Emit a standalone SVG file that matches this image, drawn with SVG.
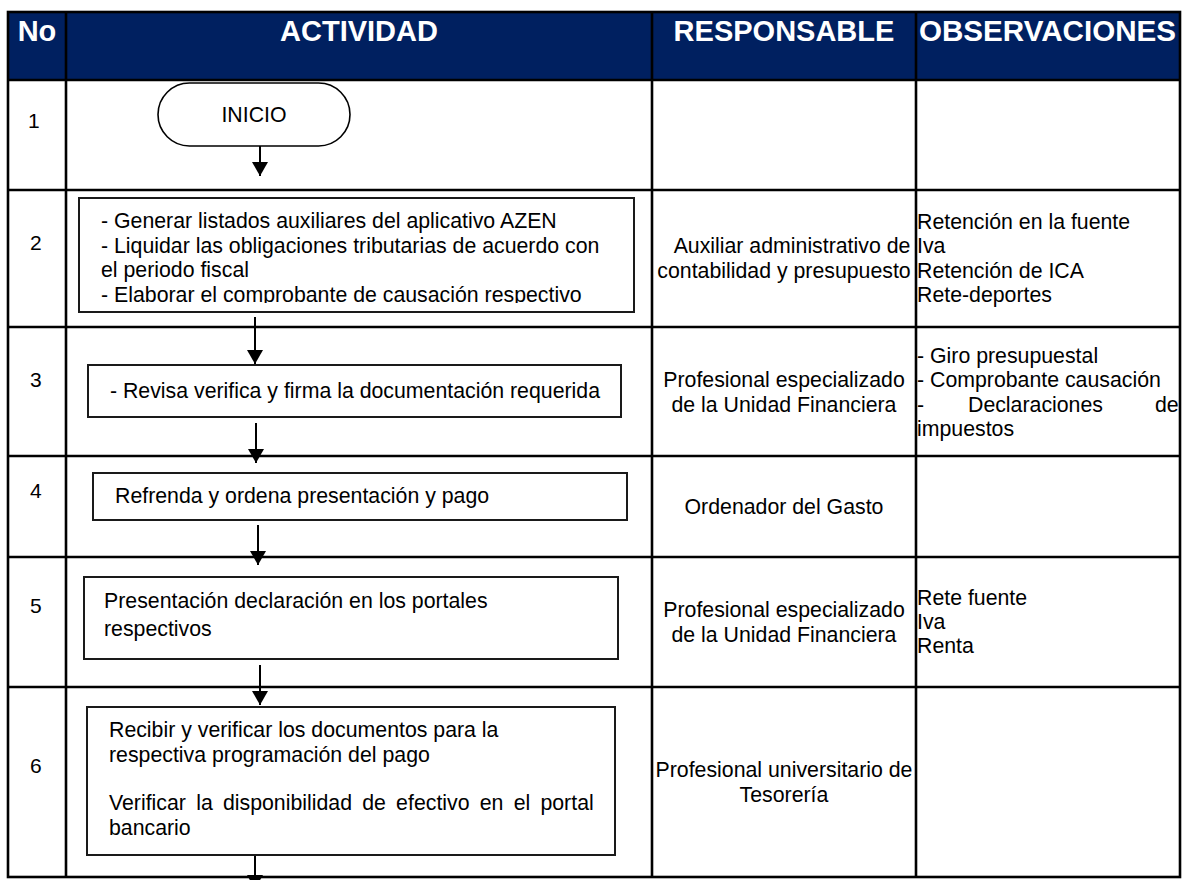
<svg xmlns="http://www.w3.org/2000/svg" width="1182" height="880" viewBox="0 0 1182 880">
<style>
.hdr{font-family:"Liberation Sans",Arial,sans-serif;font-weight:bold;font-size:29px;fill:#fff}
.t{font-family:"Liberation Sans",Arial,sans-serif;font-size:21.3px;fill:#000}
.num{font-family:"Liberation Sans",Arial,sans-serif;font-size:21px;fill:#000}
.c{text-anchor:middle}
.grid{stroke:#000;stroke-width:2.6;fill:none}
.box{fill:#fff;stroke:#1a1a1a;stroke-width:2}
.conn{stroke:#000;stroke-width:2;fill:none;marker-end:url(#ah)}
</style>
<defs>
<marker id="ah" viewBox="0 0 14 16" refX="14" refY="8" markerWidth="14" markerHeight="16" markerUnits="userSpaceOnUse" orient="auto">
<path d="M0,0 L14,8 L0,16 Z" fill="#000"/>
</marker>
<clipPath id="clip2"><rect x="80" y="198" width="554" height="105"/></clipPath>
</defs>
<rect width="1182" height="880" fill="#fff"/>
<g id="table">
<rect x="8" y="12" width="1172" height="68" fill="#002060"/>
<rect class="grid" x="8" y="12" width="1172" height="865"/>
<path class="grid" d="M66,12V877 M652,12V877 M916,12V877 M8,80H1180 M8,190H1180 M8,327H1180 M8,456H1180 M8,557H1180 M8,687H1180"/>
<text class="hdr c" x="37" y="41">No</text>
<text class="hdr c" x="359" y="41">ACTIVIDAD</text>
<text class="hdr c" x="784" y="41">RESPONSABLE</text>
<text class="hdr" x="919" y="41" textLength="257" lengthAdjust="spacingAndGlyphs">OBSERVACIONES</text>
<text class="num" x="28" y="128">1</text>
<text class="num" x="30" y="250">2</text>
<text class="num" x="30" y="387">3</text>
<text class="num" x="30" y="498">4</text>
<text class="num" x="30" y="613">5</text>
<text class="num" x="30" y="773">6</text>
</g>
<g id="n1">
<rect x="158" y="83" width="192" height="63" rx="31.5" ry="31.5" fill="#fff" stroke="#000" stroke-width="1.6"/>
<text class="t c" x="254" y="122">INICIO</text>
</g>
<g id="n2">
<rect class="box" x="79" y="198" width="555" height="114"/>
<g clip-path="url(#clip2)">
<text class="t" x="101" y="228">- Generar listados auxiliares del aplicativo AZEN</text>
<text class="t" x="101" y="252.5">- Liquidar las obligaciones tributarias de acuerdo con</text>
<text class="t" x="101" y="277">el periodo fiscal</text>
<text class="t" x="101" y="301.5">- Elaborar el comprobante de causación respectivo</text>
</g>
<text class="t c" x="792" y="253">Auxiliar administrativo de</text>
<text class="t c" x="784" y="278">contabilidad y presupuesto</text>
<text class="t" x="917" y="229">Retención en la fuente</text>
<text class="t" x="917" y="253">Iva</text>
<text class="t" x="917" y="278">Retención de ICA</text>
<text class="t" x="917" y="302">Rete-deportes</text>
</g>
<g id="n3">
<rect class="box" x="88" y="365" width="533" height="52"/>
<text class="t c" x="355" y="398">- Revisa verifica y firma la documentación requerida</text>
<text class="t c" x="784" y="387">Profesional especializado</text>
<text class="t c" x="784" y="412">de la Unidad Financiera</text>
<text class="t" x="917" y="363">- Giro presupuestal</text>
<text class="t" x="917" y="387">- Comprobante causación</text>
<text class="t" x="917" y="412"><tspan x="917">-</tspan><tspan x="968">Declaraciones</tspan><tspan x="1155">de</tspan></text>
<text class="t" x="917" y="436">impuestos</text>
</g>
<g id="n4">
<rect class="box" x="93" y="473" width="534" height="47"/>
<text class="t" x="115" y="503">Refrenda y ordena presentación y pago</text>
<text class="t c" x="784" y="514">Ordenador del Gasto</text>
</g>
<g id="n5">
<rect class="box" x="84" y="577" width="534" height="82"/>
<text class="t" x="104" y="608">Presentación declaración en los portales</text>
<text class="t" x="104" y="636">respectivos</text>
<text class="t c" x="784" y="617">Profesional especializado</text>
<text class="t c" x="784" y="642">de la Unidad Financiera</text>
<text class="t" x="917" y="605">Rete fuente</text>
<text class="t" x="917" y="629">Iva</text>
<text class="t" x="917" y="653">Renta</text>
</g>
<g id="n6">
<rect class="box" x="87" y="707" width="528" height="148"/>
<text class="t" x="109" y="737">Recibir y verificar los documentos para la</text>
<text class="t" x="109" y="762">respectiva programación del pago</text>
<text class="t" x="109" y="810" word-spacing="4.3">Verificar la disponibilidad de efectivo en el portal</text>
<text class="t" x="109" y="835">bancario</text>
<text class="t c" x="784" y="777">Profesional universitario de</text>
<text class="t c" x="784" y="802">Tesorería</text>
</g>
<g id="connectors">
<path class="conn" d="M260,146V176"/>
<path class="conn" d="M255,317V364"/>
<path class="conn" d="M256,423V463"/>
<path class="conn" d="M258,525V565"/>
<path class="conn" d="M260,665V705"/>
<path class="conn" d="M255,856V889"/>
</g>
</svg>
